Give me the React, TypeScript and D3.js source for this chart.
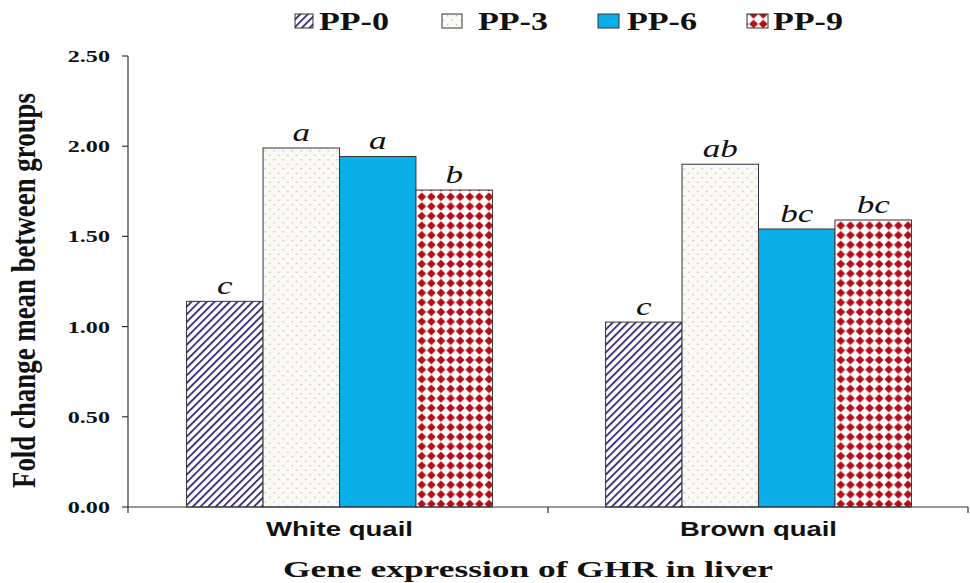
import React from "react";
import * as d3 from "d3";

const categories = ["White quail", "Brown quail"];
const seriesNames = ["PP-0", "PP-3", "PP-6", "PP-9"];
const pp0 = [1.14, 1.025];
const pp3 = [1.99, 1.90];
const pp6 = [1.943, 1.541];
const pp9 = [1.757, 1.591];
const letters0 = ["c", "c"];
const letters3 = ["a", "ab"];
const letters6 = ["a", "bc"];
const letters9 = ["b", "bc"];
const yTicks = [0, 0.5, 1.0, 1.5, 2.0, 2.5];

const seriesValues = [pp0, pp3, pp6, pp9];
const seriesLetters = [letters0, letters3, letters6, letters9];
const fills = ["url(#pStripe)", "url(#pDots)", "#0aaee8", "url(#pDiamond)"];

const W = 970;
const H = 583;
const left = 128;
const right = 968;
const top = 56;
const bottom = 507;

const serif = "'Liberation Serif', 'Times New Roman', serif";
const sans = "'Liberation Sans', Arial, sans-serif";

function SText(props: {
  x: number; y: number; k?: number; anchor?: string; size: number; family: string;
  weight?: string; italic?: boolean; children: React.ReactNode;
}) {
  const { x, y, k = 1, anchor = "start", size, family, weight = "normal", italic, children } = props;
  return (
    <text
      transform={`translate(${x},${y}) scale(${k},1)`}
      textAnchor={anchor}
      fontFamily={family}
      fontWeight={weight}
      fontStyle={italic ? "italic" : "normal"}
      fontSize={size}
      fill="#111"
    >
      {children}
    </text>
  );
}

export default function App() {
  const x0 = d3.scaleBand<string>().domain(categories).range([130, right]).paddingInner(0.27).paddingOuter(0.135);
  const x1 = d3.scaleBand<string>().domain(seriesNames).range([0, x0.bandwidth()]).padding(0);
  const y = d3.scaleLinear().domain([0, 2.5]).range([bottom, top]);

  const legendSwX = [295, 442, 598, 747];
  const legendSwW = [18, 20, 21, 21];
  const legendTextX = [319, 478, 627, 773];
  const catLen = [147, 157];

  return (
    <svg width={W} height={H} style={{ position: "absolute", left: 0, top: 0, background: "#fff" }}>
      <defs>
        <pattern id="pStripe" patternUnits="userSpaceOnUse" width="5.4" height="5.4" patternTransform="rotate(45)">
          <rect width="5.4" height="5.4" fill="#fff" />
          <rect x="0" y="0" width="1.9" height="5.4" fill="#40327f" />
        </pattern>
        <pattern id="pDots" patternUnits="userSpaceOnUse" width="9" height="9">
          <rect width="9" height="9" fill="#fbf9f4" />
          <circle cx="2.2" cy="2.2" r="0.8" fill="#b9b4b8" />
          <circle cx="6.7" cy="6.7" r="0.8" fill="#b9b4b8" />
        </pattern>
        <pattern id="pDiamond" patternUnits="userSpaceOnUse" width="9.6" height="9.6">
          <rect width="9.6" height="9.6" fill="#fff" />
          <path d="M4.8,0.4 L9.2,4.8 L4.8,9.2 L0.4,4.8 Z" fill="#b50d14" />
        </pattern>
      </defs>

      {/* bars */}
      {categories.map((cat, ci) => (
        <g key={cat} transform={`translate(${x0(cat)},0)`}>
          {seriesNames.map((s, si) => {
            const v = seriesValues[si][ci];
            const bx = x1(s) as number;
            const bw = x1.bandwidth();
            return (
              <g key={s}>
                <rect x={bx} y={y(v)} width={bw} height={y(0) - y(v)} fill={fills[si]} stroke="#333" strokeWidth={1} />
                <SText x={bx + bw / 2} y={y(v) - 7} k={1.35} anchor="middle" size={26} family={serif} italic>
                  {seriesLetters[si][ci]}
                </SText>
              </g>
            );
          })}
        </g>
      ))}

      {/* y axis */}
      <line x1={left} x2={left} y1={top} y2={bottom} stroke="#333" strokeWidth={1.2} />
      {yTicks.map((t) => (
        <g key={t}>
          <line x1={left - 6} x2={left} y1={y(t)} y2={y(t)} stroke="#333" strokeWidth={1.2} />
          <SText x={110} y={y(t) + 6} k={1.42} anchor="end" size={17} family={serif} weight="bold">
            {t.toFixed(2)}
          </SText>
        </g>
      ))}

      {/* x axis */}
      <line x1={left} x2={right} y1={bottom} y2={bottom} stroke="#333" strokeWidth={1.2} />
      {[left, (left + right) / 2, right].map((tx, i) => (
        <line key={i} x1={tx} x2={tx} y1={bottom} y2={bottom + 6} stroke="#333" strokeWidth={1.2} />
      ))}
      {categories.map((cat, i) => (
        <text
          key={cat}
          x={(x0(cat) as number) + x0.bandwidth() / 2 - catLen[i] / 2}
          y={536}
          fontFamily={sans}
          fontWeight="bold"
          fontSize={19.5}
          fill="#111"
          textLength={catLen[i]}
          lengthAdjust="spacingAndGlyphs"
        >
          {cat}
        </text>
      ))}

      {/* axis titles */}
      <text
        x={283}
        y={577}
        fontFamily={serif}
        fontWeight="bold"
        fontSize={24}
        fill="#111"
        textLength={490}
        lengthAdjust="spacingAndGlyphs"
      >
        Gene expression of GHR in liver
      </text>
      <text
        transform={`translate(35,${290.5}) scale(1.35,1) rotate(-90)`}
        x={-197.5}
        y={0}
        fontFamily={serif}
        fontWeight="bold"
        fontSize={25}
        fill="#111"
        textLength={395}
        lengthAdjust="spacingAndGlyphs"
      >
        Fold change mean between groups
      </text>

      {/* legend */}
      {seriesNames.map((s, i) => (
        <g key={s}>
          <rect x={legendSwX[i]} y={14} width={legendSwW[i]} height={14} fill={fills[i]} stroke="#333" strokeWidth={1} />
          <text
            x={legendTextX[i]}
            y={29.5}
            fontFamily={serif}
            fontWeight="bold"
            fontSize={25.5}
            fill="#111"
            textLength={70}
            lengthAdjust="spacingAndGlyphs"
          >
            {s}
          </text>
        </g>
      ))}
    </svg>
  );
}
